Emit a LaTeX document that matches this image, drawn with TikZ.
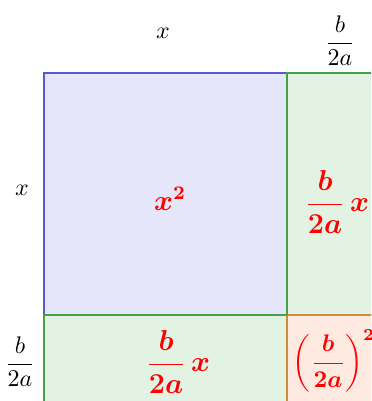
\documentclass[tikz,border=0pt]{standalone}
\usepackage{amsmath}
\usepackage{bm}

\definecolor{sqblue}{RGB}{88,88,210}
\definecolor{sqbluefill}{RGB}{230,230,250}
\definecolor{stripgreen}{RGB}{70,160,70}
\definecolor{stripgreenfill}{RGB}{227,243,227}
\definecolor{cornerorange}{RGB}{205,140,60}
\definecolor{cornerfill}{RGB}{255,234,225}

\begin{document}
\begin{tikzpicture}[x=0.41667pt,y=-0.41667pt,line width=0.8pt,
  side/.style={inner sep=0pt},
  area/.style={inner sep=0pt,red,font=\large}]
  \useasboundingbox (0,0) rectangle (371,401);
  \clip (0,0) rectangle (371,401);
  % the four pieces
  \draw[sqblue,fill=sqbluefill] (44,73) rectangle (287,315);
  \draw[stripgreen,fill=stripgreenfill] (287,73) rectangle (393,315);
  \draw[stripgreen,fill=stripgreenfill] (44,315) rectangle (287,411);
  \draw[cornerorange,fill=cornerfill] (287,315) rectangle (393,411);
  \draw[stripgreen] (287,73) -- (287,315);
  \draw[stripgreen] (44,315) -- (287,315);
  % side lengths
  \node[side] (topx) at (163,33) {$x$};
  \node[side] (topb) at (340,41) {$\dfrac{b}{2a}$};
  \node[side] (leftx) at (22,190) {$x$};
  \node[side] (leftb) at (20,362) {$\dfrac{b}{2a}$};
  % areas
  \node[area] (sqx) at (170,199) {$\boldsymbol{x^2}$};
  \node[area] (rightbx) at (337,202) {$\boldsymbol{\dfrac{b}{2a}\,x}$};
  \node[area] (bottombx) at (178,362) {$\boldsymbol{\dfrac{b}{2a}\,x}$};
  \node[area,font=\normalsize,anchor=base west] (cornerb) at (292,369) {$\boldsymbol{\left(\dfrac{b}{2a}\right)^{2}}$};
\end{tikzpicture}
\end{document}
